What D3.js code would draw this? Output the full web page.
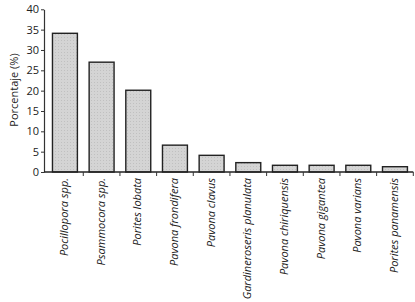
<!DOCTYPE html>
<html>
<head>
<meta charset="utf-8">
<script src="https://cdn.jsdelivr.net/npm/d3@7"></script>
<style>
  body { margin: 0; background: #fff; }
  svg { display: block; font-family: "Open Sans", "Noto Sans", sans-serif; }
</style>
</head>
<body>
<div id="chart"></div>
<script>
const species = [
  'Pocillopora spp.', 'Psammocora spp.', 'Porites lobata', 'Pavona frondifera',
  'Pavona clavus', 'Gardineroseris planulata', 'Pavona chiriquensis',
  'Pavona gigantea', 'Pavona varians', 'Porites panamensis'
];
const percent = [34.1, 27.0, 20.1, 6.6, 4.1, 2.3, 1.65, 1.65, 1.65, 1.3];
const yTicks = [0, 5, 10, 15, 20, 25, 30, 35, 40];

const W = 415, H = 302;
const axisX = 44, plotTop = 9.3, base = 172;

const svg = d3.select('#chart').append('svg')
  .attr('width', W).attr('height', H);

// stipple pattern for bar fill
const pat = svg.append('defs').append('pattern')
  .attr('id', 'stip').attr('width', 3).attr('height', 3)
  .attr('patternUnits', 'userSpaceOnUse');
pat.append('rect').attr('width', 3).attr('height', 3).attr('fill', '#d4d4d4');
pat.append('rect').attr('x', 1).attr('y', 1).attr('width', 1).attr('height', 1).attr('fill', '#c0c0c0');

const x = d3.scaleBand().domain(species).range([46.6, 413.3])
  .paddingInner(0.32).paddingOuter(0.16);
const y = d3.scaleLinear().domain([0, 40]).range([base, plotTop]);

// Bars
svg.selectAll('.bar').data(species).join('rect')
  .attr('x', d => x(d)).attr('width', x.bandwidth())
  .attr('y', (d, i) => y(percent[i]))
  .attr('height', (d, i) => base - y(percent[i]))
  .attr('fill', 'url(#stip)')
  .attr('stroke', '#222').attr('stroke-width', 1.4);

// Y axis
svg.append('g').attr('transform', `translate(${axisX},0)`)
  .call(d3.axisLeft(y).tickValues(yTicks).tickSizeInner(3).tickSizeOuter(0).tickPadding(2))
  .call(g => g.select('.domain').attr('stroke', '#333').attr('stroke-width', 1.2))
  .call(g => g.selectAll('.tick line').attr('stroke', '#333'))
  .call(g => g.selectAll('.tick text').attr('fill', '#222').attr('font-size', '11px')
    .attr('font-family', '"Open Sans", sans-serif'));

// X axis line with ticks at band boundaries
const step = x.step();
svg.append('line').attr('x1', axisX).attr('x2', x.range()[1])
  .attr('y1', base).attr('y2', base).attr('stroke', '#222').attr('stroke-width', 1.4);
svg.selectAll('.xtick').data(d3.range(1, species.length + 1)).join('line')
  .attr('x1', k => x.range()[0] + k * step).attr('x2', k => x.range()[0] + k * step)
  .attr('y1', base).attr('y2', base + 4)
  .attr('stroke', '#333').attr('stroke-width', 1);

// Category labels
svg.selectAll('.xlab').data(species).join('text')
  .attr('transform', d => `translate(${x(d) + x.bandwidth() / 2 + 3},178) rotate(-90)`)
  .attr('text-anchor', 'end')
  .attr('font-size', '11px').attr('font-style', 'italic').attr('fill', '#222')
  .text(d => d);

// Y title
svg.append('text')
  .attr('transform', 'translate(18,90) rotate(-90)')
  .attr('text-anchor', 'middle')
  .attr('font-size', '11px').attr('fill', '#222')
  .text('Porcentaje (%)');
</script>
</body>
</html>
